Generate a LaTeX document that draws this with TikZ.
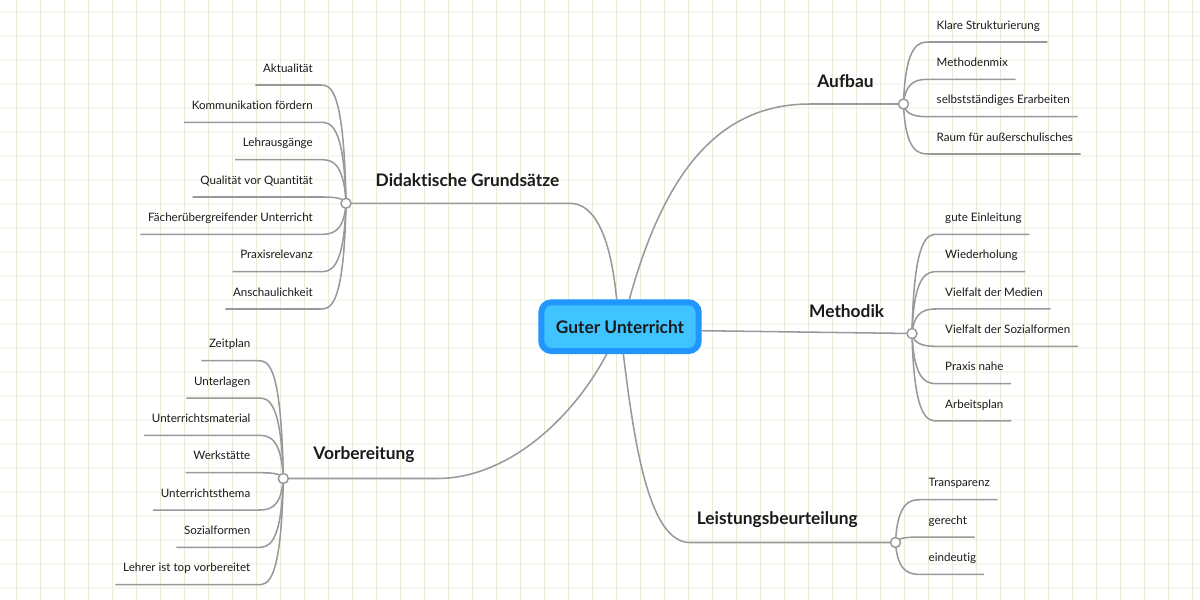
\documentclass[tikz,border=0pt]{standalone}
\usepackage{fontspec}
\setmainfont{Lato}[Ligatures={NoCommon}]
\definecolor{linegray}{HTML}{999999}
\definecolor{textcol}{HTML}{1A1A1A}
\definecolor{rootfill}{HTML}{40C4FF}
\definecolor{rootborder}{HTML}{2196FF}
\definecolor{gridv}{HTML}{E3EED8}
\definecolor{gridh}{HTML}{F4F8EE}
\pgfdeclarelayer{gridlayer}
\pgfdeclarelayer{linelayer}
\pgfsetlayers{gridlayer,linelayer,main}
\begin{document}
\begin{tikzpicture}[x=0.75pt,y=-0.75pt,
  link/.style={draw=linegray, line width=1.15pt},
  hub/.style={circle, draw=linegray, line width=1.1pt, fill=white, inner sep=0pt, minimum size=7.5pt},
  leafR/.style={anchor=south west, inner xsep=5.6pt, inner ysep=9.4pt, text depth=0pt, text=textcol, font=\fontsize{8.7}{10}\selectfont},
  leafL/.style={leafR, anchor=south east},
  branch/.style={text=textcol, inner sep=0pt, font=\bfseries\fontsize{13}{15}\selectfont},
  rootbox/.style={draw=rootborder, line width=4.5pt, fill=rootfill, rounded corners=7.5pt, minimum width=118pt, minimum height=36.5pt, inner sep=0pt, text=textcol, font=\bfseries\fontsize{13}{16}\selectfont}
]
\useasboundingbox (0,0) rectangle (1200,600);
\begin{pgfonlayer}{gridlayer}
  \fill[white] (0,0) rectangle (1200,600);
  \foreach \k in {0,...,24} \draw[gridh, line width=1.2pt] (0,12+24*\k) -- (1200,12+24*\k);
  \foreach \k in {0,...,49} \draw[gridv, line width=0.75pt] (16+24*\k,0) -- (16+24*\k,600);
\end{pgfonlayer}

% root
\node[rootbox] (root) at (620,326.7) {Guter Unterricht};

% hubs
\coordinate (hA) at (903.5,104);
\coordinate (hM) at (912,333.5);
\coordinate (hL) at (895.5,542.5);
\coordinate (hD) at (346,203.3);
\coordinate (hV) at (283.3,478.5);
\node[hub] (hAc) at (hA) {};
\node[hub] (hMc) at (hM) {};
\node[hub] (hLc) at (hL) {};
\node[hub] (hDc) at (hD) {};
\node[hub] (hVc) at (hV) {};

% branch labels
\node[branch] (lA) at (845.5,80.7) {Aufbau};
\node[branch] (lM) at (846.7,310.7) {Methodik};
\node[branch] (lL) at (777.3,520) {Leistungsbeurteilung};
\node[branch] (lD) at (467.5,180) {Didaktische Grundsätze};
\node[branch] (lV) at (364,455) {Vorbereitung};

\begin{pgfonlayer}{linelayer}
  \draw[link] ([xshift=7pt]root.north) .. controls (665,170) and (720,104) .. (810,104) -- (hA);
  \draw[link] ([yshift=-3pt]root.east) -- (hM);
  \draw[link] ([xshift=2.5pt]root.south) .. controls (635,450) and (650,542.5) .. (690,542.5) -- (hL);
  \draw[link] ([xshift=-2.5pt]root.north) .. controls (611,240) and (596,203.3) .. (570,203.3) -- (hD);
  \draw[link] ([xshift=-10pt]root.south) .. controls (575,415) and (510,478.5) .. (437,478.5) -- (hV);
\end{pgfonlayer}

% Aufbau children
\foreach \t [count=\i] in {Klare Strukturierung, Methodenmix, selbstständiges Erarbeiten, Raum für außerschulisches}{
  \node[leafR] (a\i) at (929,{42+(\i-1)*37.33}) {\t};
  \begin{pgfonlayer}{linelayer}
  \draw[link] (hA) .. controls ([xshift=1.5pt]hA |- a\i.south) and ([xshift=-7pt]a\i.south west) .. (a\i.south west) -- (a\i.south east);
  \end{pgfonlayer}
}
% Methodik children
\foreach \t [count=\i] in {gute Einleitung, Wiederholung, Vielfalt der Medien, Vielfalt der Sozialformen, Praxis nahe, Arbeitsplan}{
  \node[leafR] (m\i) at (937.5,{234.3+(\i-1)*37.33}) {\t};
  \begin{pgfonlayer}{linelayer}
  \draw[link] (hM) .. controls ([xshift=1.5pt]hM |- m\i.south) and ([xshift=-7pt]m\i.south west) .. (m\i.south west) -- (m\i.south east);
  \end{pgfonlayer}
}
% Leistungsbeurteilung children
\foreach \t [count=\i] in {Transparenz, gerecht, eindeutig}{
  \node[leafR] (l\i) at (921,{499.7+(\i-1)*37.33}) {\t};
  \begin{pgfonlayer}{linelayer}
  \draw[link] (hL) .. controls ([xshift=1.5pt]hL |- l\i.south) and ([xshift=-7pt]l\i.south west) .. (l\i.south west) -- (l\i.south east);
  \end{pgfonlayer}
}
% Didaktische Grundsaetze children
\foreach \t [count=\i] in {Aktualität, Kommunikation fördern, Lehrausgänge, Qualität vor Quantität, Fächerübergreifender Unterricht, Praxisrelevanz, Anschaulichkeit}{
  \node[leafL] (d\i) at (320.5,{85+(\i-1)*37.33}) {\t};
  \begin{pgfonlayer}{linelayer}
  \draw[link] (hD) .. controls ([xshift=-1.5pt]hD |- d\i.south) and ([xshift=7pt]d\i.south east) .. (d\i.south east) -- (d\i.south west);
  \end{pgfonlayer}
}
% Vorbereitung children
\foreach \t [count=\i] in {Zeitplan, Unterlagen, Unterrichtsmaterial, Werkstätte, Unterrichtsthema, Sozialformen, Lehrer ist top vorbereitet}{
  \node[leafL] (v\i) at (258,{360.7+(\i-1)*37.33}) {\t};
  \begin{pgfonlayer}{linelayer}
  \draw[link] (hV) .. controls ([xshift=-1.5pt]hV |- v\i.south) and ([xshift=7pt]v\i.south east) .. (v\i.south east) -- (v\i.south west);
  \end{pgfonlayer}
}
\end{tikzpicture}
\end{document}
